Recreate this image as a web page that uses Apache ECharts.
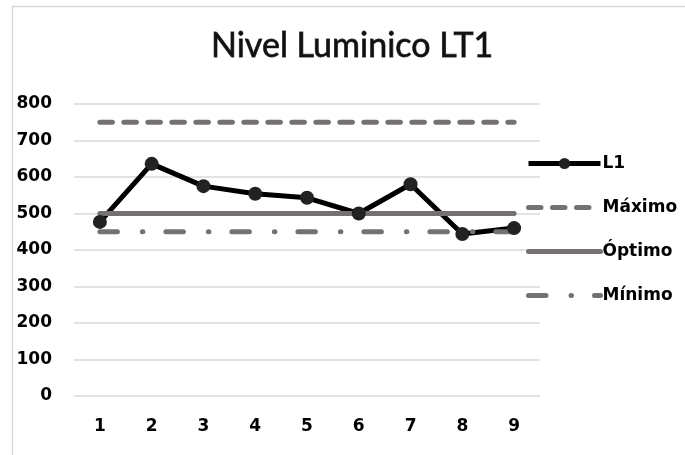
<!DOCTYPE html>
<html><head><meta charset="utf-8">
<script src="https://cdn.jsdelivr.net/npm/echarts@6/dist/echarts.min.js"></script>
<style>html,body{margin:0;padding:0;background:#fff}#c{width:685px;height:455px}</style>
</head><body><div id="c"></div>
<script>
var categories = ['1','2','3','4','5','6','7','8','9'];
var l1 = [477, 636, 575, 554, 543, 500, 580, 444, 460];
var maximo = [750, 750, 750, 750, 750, 750, 750, 750, 750];
var optimo = [500, 500, 500, 500, 500, 500, 500, 500, 500];
var minimo = [450, 450, 450, 450, 450, 450, 450, 450, 450];
var yTicks = [0, 100, 200, 300, 400, 500, 600, 700, 800];

var chart = echarts.init(document.getElementById('c'), null, {renderer: 'canvas'});
var gray = '#767171';
var font = 'Lato';
var bfont = 'DejaVu Sans';
var dashMax = [12.5, 11.5];
var dashMin = [17.5, 25, 0.5, 23];
chart.setOption({
  animation: false,
  graphic: [{type: 'rect', shape: {x: 12.5, y: 6.5, width: 700, height: 480}, style: {fill: 'none', stroke: '#d9d9d9', lineWidth: 1.5}, silent: true}],
  title: {text: 'Nivel Luminico LT1', left: 206, top: 24,
    textStyle: {fontFamily: font, fontSize: 34, fontWeight: 'normal', color: '#111', textBorderColor: '#444', textBorderWidth: 0.8}},
  grid: {left: 74, right: 145, top: 104, bottom: 59},
  legend: {orient: 'vertical', left: 521, top: 150, itemWidth: 72, itemHeight: 14, itemGap: 27,
    textStyle: {fontFamily: bfont, fontSize: 17, fontWeight: 'bold', color: '#000', padding: [0,0,0,-3]},
    data: [
      {name: 'L1', lineStyle: {width: 5, color: '#000'}, itemStyle: {color: '#222'}},
      {name: 'Máximo', lineStyle: {width: 5, color: gray, type: dashMax, cap: 'round'}, itemStyle: {opacity: 0}},
      {name: 'Óptimo', lineStyle: {width: 5, color: gray, cap: 'round'}, itemStyle: {opacity: 0}},
      {name: 'Mínimo', lineStyle: {width: 5, color: gray, type: dashMin, cap: 'round'}, itemStyle: {opacity: 0}}
    ]},
  xAxis: {type: 'category', data: categories, boundaryGap: true,
    axisLine: {show: false}, axisTick: {show: false},
    axisLabel: {fontFamily: bfont, fontSize: 17, fontWeight: 'bold', color: '#000', margin: 22}},
  yAxis: {type: 'value', min: 0, max: 800, interval: 100,
    axisLine: {show: false}, axisTick: {show: false},
    splitLine: {lineStyle: {color: '#d9d9d9', width: 1.5}},
    axisLabel: {fontFamily: bfont, fontSize: 17, fontWeight: 'bold', color: '#000', margin: 22,
      formatter: function (v) { return yTicks.indexOf(v) >= 0 ? String(v) : ''; }}},
  series: [
    {name: 'L1', type: 'line', data: l1, symbol: 'circle', symbolSize: 14,
      itemStyle: {color: '#222'}, lineStyle: {color: '#000', width: 5}},
    {name: 'Máximo', type: 'line', data: maximo, symbol: 'none',
      itemStyle: {color: gray},
      lineStyle: {color: gray, width: 5, type: dashMax, cap: 'round'}},
    {name: 'Óptimo', type: 'line', data: optimo, symbol: 'none',
      itemStyle: {color: gray},
      lineStyle: {color: gray, width: 5, cap: 'round'}},
    {name: 'Mínimo', type: 'line', data: minimo, symbol: 'none',
      itemStyle: {color: gray},
      lineStyle: {color: gray, width: 5, type: dashMin, cap: 'round'}}
  ]
});
</script></body></html>
